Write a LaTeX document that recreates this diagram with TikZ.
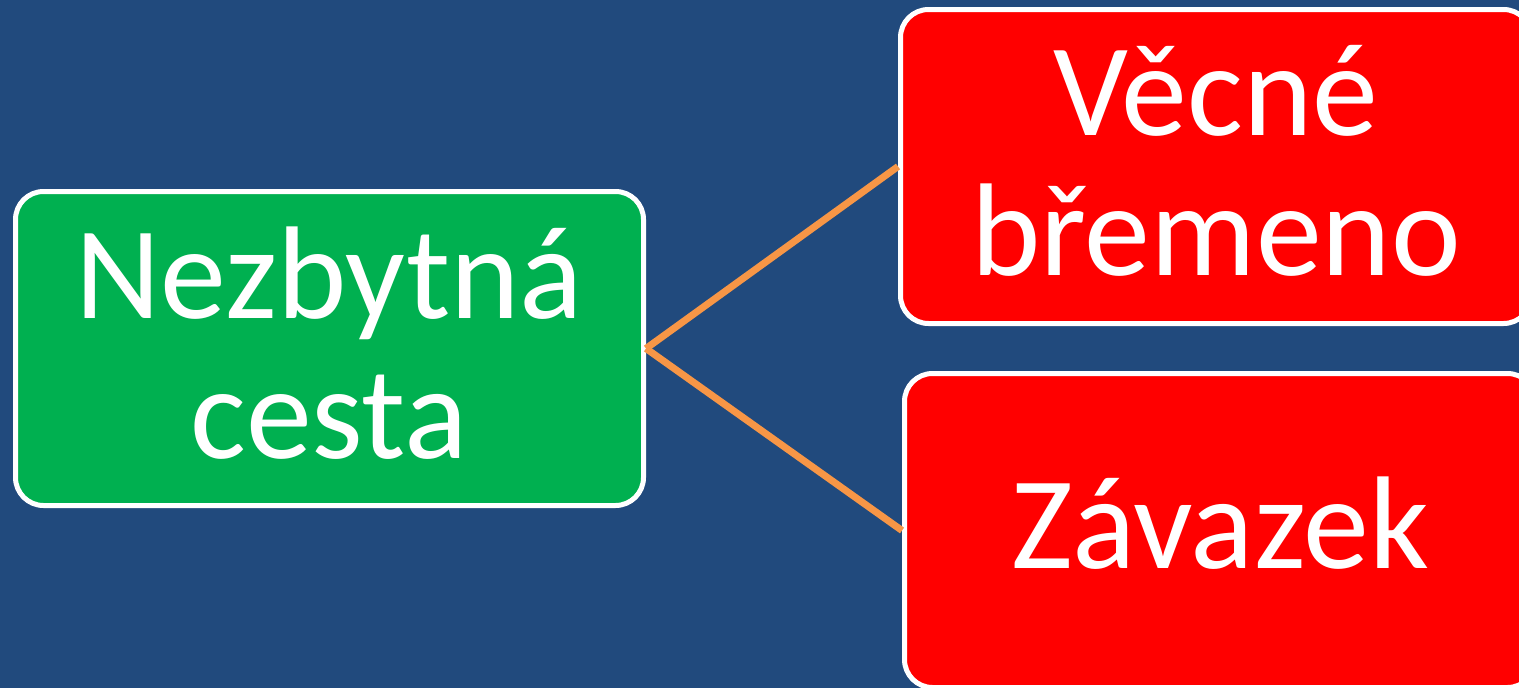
\documentclass[tikz,border=0pt]{standalone}
\usepackage{fontspec}
\setmainfont{Carlito}
\definecolor{bgblue}{HTML}{214A7D}
\definecolor{boxgreen}{HTML}{00B050}
\definecolor{boxred}{HTML}{FF0000}
\definecolor{linkorange}{HTML}{F79646}
\begin{document}
\begin{tikzpicture}[x=1pt,y=-1pt,
  box/.style={draw=white, line width=5pt, rounded corners=28pt, inner sep=0pt},
  txt/.style={text=white, anchor=base, inner sep=0pt, font=\fontsize{132}{140}\selectfont},
  link/.style={draw=linkorange, line width=7pt}]
\fill[bgblue] (0,0) rectangle (1519,688);
\useasboundingbox (0,0) rectangle (1519,688);
\node[box, fill=boxgreen, minimum width=628pt, minimum height=314pt] (g) at (329.5,348.5) {};
\node[box, fill=boxred, minimum width=631pt, minimum height=314pt] (r1) at (1216,166.5) {};
\node[box, fill=boxred, minimum width=631pt, minimum height=314pt] (r2) at (1220,530.5) {};
\draw[link] (g.east) -- (r1.west);
\draw[link] (g.east) -- (r2.west);
\node[txt] (g1) at (329,318) {Nezbytná};
\node[txt] (g2) at (329,458) {cesta};
\node[txt] (a1) at (1216,135) {Věcné};
\node[txt] (a2) at (1216,275) {břemeno};
\node[txt] (b1) at (1220,568) {Závazek};
\end{tikzpicture}
\end{document}
